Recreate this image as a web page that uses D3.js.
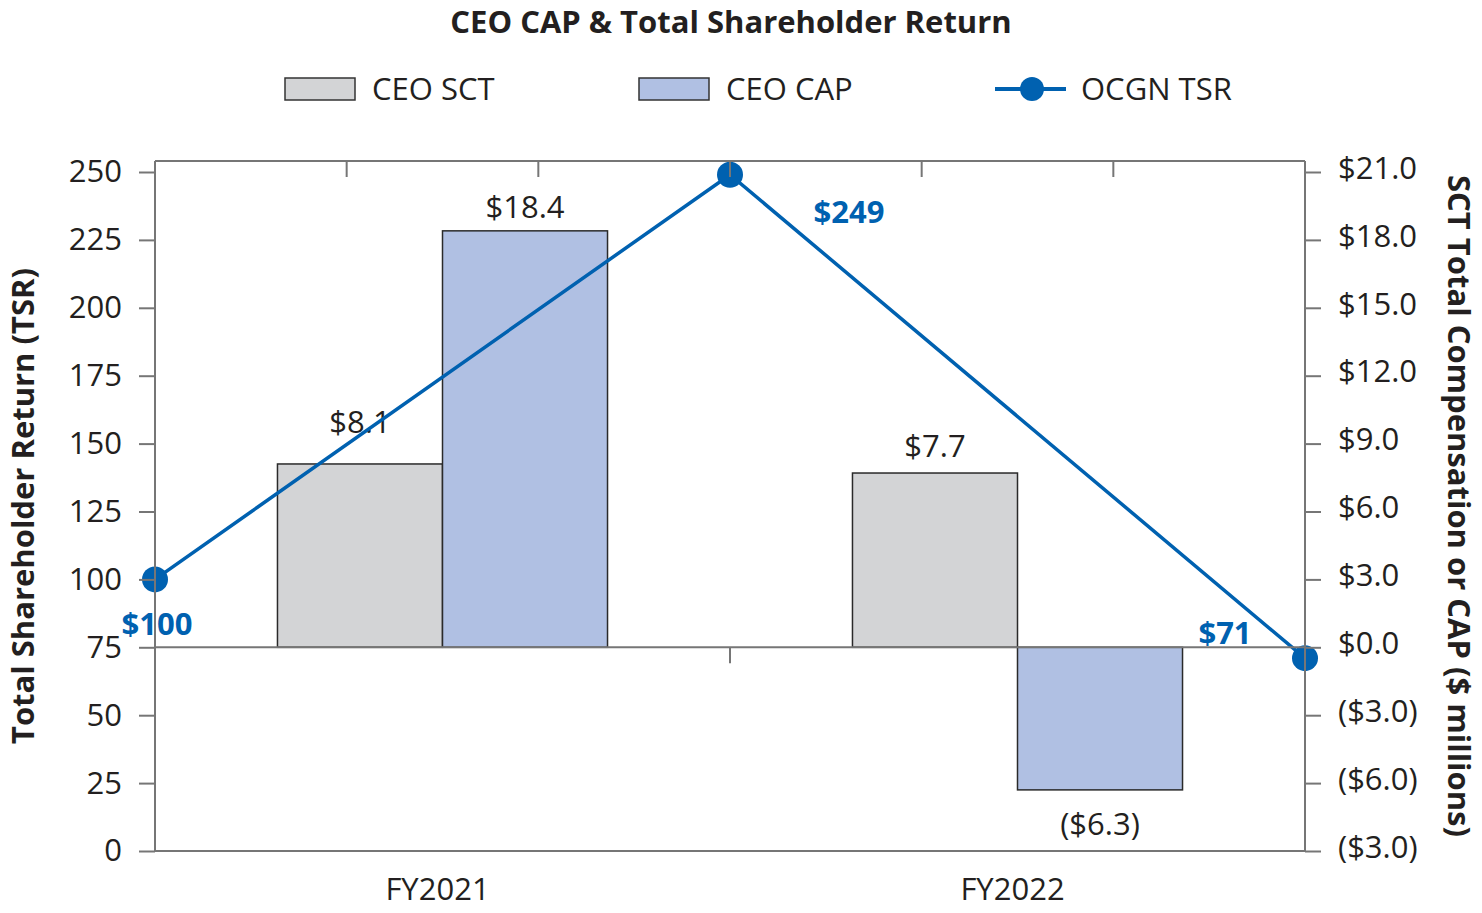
<!DOCTYPE html>
<html><head><meta charset="utf-8">
<script src="https://cdn.jsdelivr.net/npm/d3@7"></script>
<style>body{margin:0;background:#fff}svg{display:block}text{font-family:"Open Sans",sans-serif}</style>
</head><body>
<svg id="c" width="1482" height="913"></svg>
<script>
const categories = ["FY2021", "FY2022"];
const series = ["CEO SCT", "CEO CAP"];
const sctValues = [8.1, 7.7];
const capValues = [18.4, -6.3];
const sctLabels = ["$8.1", "$7.7"];
const capLabels = ["$18.4", "($6.3)"];
const tsrPoints = ["Start", "FY2021", "FY2022"];
const tsrValues = [100, 249, 71];
const tsrLabels = ["$100", "$249", "$71"];
const leftTicks = [0, 25, 50, 75, 100, 125, 150, 175, 200, 225, 250];
const rightTicks = [21, 18, 15, 12, 9, 6, 3, 0, -3, -6, -9];
const rightTickLabels = ["$21.0", "$18.0", "$15.0", "$12.0", "$9.0", "$6.0", "$3.0", "$0.0", "($3.0)", "($6.0)", "($3.0)"];

const svg = d3.select("#c");
const L = 155, R = 1305, T = 161, B = 851;
const AX = "#767676", TXT = "#231f20", BLUE = "#0061b0";
const FS = 31;
const colors = {"CEO SCT": "#d3d4d6", "CEO CAP": "#b0c0e3"};

const yL = d3.scaleLinear().domain([0, 250]).range([B, 172]);
const yR = d3.scaleLinear().domain([-9, 21]).range([B, 172]);
const x0 = d3.scaleBand().domain(categories).range([L, R]).paddingInner(0.426).paddingOuter(0.213);
const x1 = d3.scaleBand().domain(series).range([0, x0.bandwidth()]);
const xp = d3.scalePoint().domain(tsrPoints).range([L, R]);

// title
svg.append("text").attr("x", 731).attr("y", 33).attr("text-anchor", "middle")
  .attr("font-weight", 700).attr("font-size", 31).attr("fill", TXT).text("CEO CAP & Total Shareholder Return");

// legend
const leg = svg.append("g");
[["CEO SCT", 285], ["CEO CAP", 639]].forEach(([s, lx]) => {
  leg.append("rect").attr("x", lx).attr("y", 78).attr("width", 70).attr("height", 22)
    .attr("fill", colors[s]).attr("stroke", "#333").attr("stroke-width", 1.5);
  leg.append("text").attr("x", lx + 87).attr("y", 100).attr("font-size", FS).attr("fill", TXT).text(s);
});
leg.append("line").attr("x1", 995).attr("x2", 1066).attr("y1", 89).attr("y2", 89).attr("stroke", BLUE).attr("stroke-width", 4);
leg.append("circle").attr("cx", 1032).attr("cy", 89).attr("r", 12).attr("fill", BLUE);
leg.append("text").attr("x", 1081).attr("y", 100).attr("font-size", FS).attr("fill", TXT).text("OCGN TSR");

// bars
const barData = [];
categories.forEach((c, i) => {
  barData.push({c, s: "CEO SCT", v: sctValues[i], label: sctLabels[i]});
  barData.push({c, s: "CEO CAP", v: capValues[i], label: capLabels[i]});
});
svg.append("g").selectAll("rect").data(barData).join("rect")
  .attr("x", d => x0(d.c) + x1(d.s))
  .attr("width", x1.bandwidth())
  .attr("y", d => yR(Math.max(0, d.v)))
  .attr("height", d => Math.abs(yR(d.v) - yR(0)))
  .attr("fill", d => colors[d.s]).attr("stroke", "#2a2a2a").attr("stroke-width", 1.5);

// bar labels
const barLabelDy = [-31, -13, -16, 45];
svg.append("g").selectAll("text").data(barData).join("text")
  .attr("x", d => x0(d.c) + x1(d.s) + x1.bandwidth() / 2)
  .attr("y", (d, i) => yR(d.v) + barLabelDy[i])
  .attr("text-anchor", "middle").attr("font-size", FS).attr("fill", TXT).text(d => d.label);

// line
const pts = tsrPoints.map((p, i) => ({p, v: tsrValues[i], label: tsrLabels[i]}));
svg.append("path").datum(pts)
  .attr("d", d3.line().x(d => xp(d.p)).y(d => yL(d.v)))
  .attr("fill", "none").attr("stroke", BLUE).attr("stroke-width", 3.5);
svg.append("g").selectAll("circle").data(pts).join("circle")
  .attr("cx", d => xp(d.p)).attr("cy", d => yL(d.v)).attr("r", 13).attr("fill", BLUE);
const tsrOff = [[2, 56], [119, 48], [-80, -14]];
svg.append("g").selectAll("text").data(pts).join("text")
  .attr("x", (d, i) => xp(d.p) + tsrOff[i][0]).attr("y", (d, i) => yL(d.v) + tsrOff[i][1])
  .attr("text-anchor", "middle").attr("font-weight", 700).attr("font-size", FS).attr("fill", BLUE).text(d => d.label);

// frame
svg.append("line").attr("x1", L).attr("x2", R).attr("y1", T).attr("y2", T).attr("stroke", AX).attr("stroke-width", 2);
svg.append("line").attr("x1", L).attr("x2", R + 1).attr("y1", B).attr("y2", B).attr("stroke", AX).attr("stroke-width", 2);

// top ticks
const topTicks = d3.range(1, 6).map(i => L + (R - L) * i / 6);
svg.append("g").selectAll("line").data(topTicks).join("line")
  .attr("x1", d => d).attr("x2", d => d).attr("y1", T).attr("y2", T + 16).attr("stroke", AX).attr("stroke-width", 2);

// zero line
svg.append("line").attr("x1", L).attr("x2", R).attr("y1", yR(0)).attr("y2", yR(0)).attr("stroke", AX).attr("stroke-width", 2);
svg.append("line").attr("x1", xp("FY2021")).attr("x2", xp("FY2021")).attr("y1", yR(0)).attr("y2", yR(0) + 16).attr("stroke", AX).attr("stroke-width", 2);

// left axis
const gl = svg.append("g").attr("transform", `translate(${L},0)`)
  .call(d3.axisLeft(yL).tickValues(leftTicks).tickSize(16).tickPadding(17).tickSizeOuter(0));
gl.select(".domain").attr("d", `M0,${T}V${B}`).attr("stroke", AX).attr("stroke-width", 2);
gl.selectAll(".tick line").attr("stroke", AX).attr("stroke-width", 2);
gl.selectAll(".tick text").attr("font-size", FS).attr("fill", TXT).attr("font-family", '"Open Sans",sans-serif');

// right axis
const gr = svg.append("g").attr("transform", `translate(${R},0)`)
  .call(d3.axisRight(yR).tickValues(rightTicks).tickFormat((d, i) => rightTickLabels[i]).tickSize(16).tickPadding(17).tickSizeOuter(0));
gr.select(".domain").attr("d", `M0,${T}V${B}`).attr("stroke", AX).attr("stroke-width", 2);
gr.selectAll(".tick line").attr("stroke", AX).attr("stroke-width", 2);
gr.selectAll(".tick text").attr("font-size", FS).attr("fill", TXT).attr("dy", "0.2em").attr("font-family", '"Open Sans",sans-serif');

// axis titles
svg.append("text").attr("transform", `translate(34,${(T + B) / 2}) rotate(-90)`).attr("text-anchor", "middle")
  .attr("font-weight", 700).attr("font-size", FS).attr("fill", TXT).text("Total Shareholder Return (TSR)");
svg.append("text").attr("transform", `translate(1448,${(T + B) / 2}) rotate(90)`).attr("text-anchor", "middle")
  .attr("font-weight", 700).attr("font-size", FS).attr("fill", TXT).text("SCT Total Compensation or CAP ($ millions)");

// x labels
svg.append("g").selectAll("text").data(categories).join("text")
  .attr("x", d => x0(d) + x0.bandwidth() / 2 - 5).attr("y", 900).attr("text-anchor", "middle")
  .attr("font-size", FS).attr("fill", TXT).text(d => d);
</script>
</body></html>
